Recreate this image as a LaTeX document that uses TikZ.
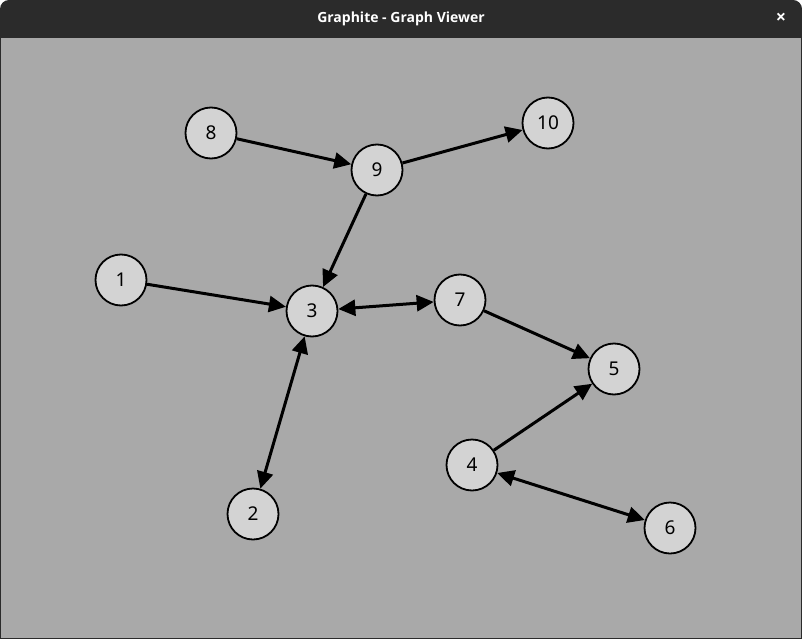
\documentclass[tikz,border=0pt]{standalone}
\usepackage{fontspec}
\setmainfont{Noto Sans}
\newfontfamily\titlefont{Open Sans}
\usetikzlibrary{arrows.meta}
\definecolor{barcol}{HTML}{2B2B2B}
\definecolor{canvascol}{HTML}{A9A9A9}
\definecolor{nodecol}{HTML}{D3D3D3}
\tikzset{
  vertex/.style={circle,draw=black,line width=1.8pt,fill=nodecol,minimum size=51pt,inner sep=0pt,font=\fontsize{19}{19}\selectfont},
  edge/.style={line width=3pt,-{Triangle[length=17pt,width=16pt]}},
  twoway/.style={line width=3pt,{Triangle[length=17pt,width=16pt]}-{Triangle[length=17pt,width=16pt]}}
}
\begin{document}
\begin{tikzpicture}[x=1pt,y=-1pt,line join=round]
				\useasboundingbox (0,0) rectangle (802,639);
				% window
				\fill[barcol,rounded corners=9pt] (0,0) rectangle (802,60);
				\fill[barcol] (0,30) rectangle (802,639);
				\fill[canvascol] (1,38) rectangle (801,638);
				\node[text=white,font=\titlefont\bfseries\fontsize{14}{14}\selectfont] (title) at (401,19) {Graphite - Graph Viewer};
				\node[text=white,font=\titlefont\bfseries\fontsize{18}{18}\selectfont] (close) at (781,18) {×};
				% vertices
				\foreach \n/\x/\y in {8/211/133,9/377/170,10/548/123,1/121/280,3/312/311,7/460/300,5/614/369,4/472/465,2/253/514,6/670/528}
					\node[vertex] (v\n) at (\x,\y) {\n};
				% connectors
				\foreach \a/\b in {8/9,9/10,9/3,1/3,7/5,4/5}
					\draw[edge] (v\a) -- (v\b);
				\foreach \a/\b in {3/7,3/2,4/6}
					\draw[twoway] (v\a) -- (v\b);
			\end{tikzpicture}
\end{document}
